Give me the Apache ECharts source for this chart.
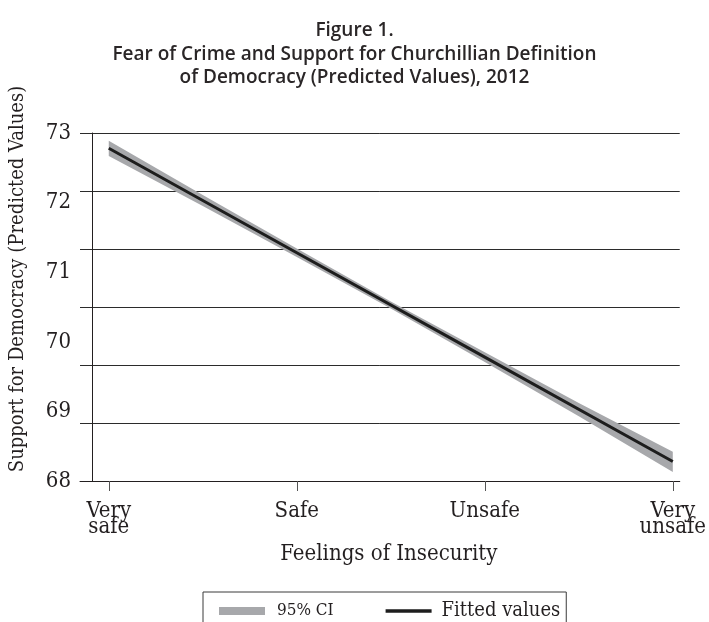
<!DOCTYPE html>
<html>
<head>
<meta charset="utf-8">
<title>Fear of Crime and Support for Churchillian Definition of Democracy</title>
<script src="https://cdn.jsdelivr.net/npm/echarts@6/dist/echarts.min.js"></script>
<style>
  html, body { margin: 0; padding: 0; background: #fff; }
  #chart { width: 709px; height: 622px; }
</style>
</head>
<body>
<div id="chart"></div>
<script>
// Feelings of insecurity, coded 1 (very safe) .. 4 (very unsafe)
const categoryPos = [1, 2, 3, 4];
const categoryLabels = ['Very\nsafe', 'Safe', 'Unsafe', 'Very\nunsafe'];

// Predicted support for democracy at each level
const fittedValues = [72.78, 71.28, 69.78, 68.28];

// 95% confidence band, sampled along the insecurity scale
const ciX = [1, 1.5, 2, 2.5, 3, 3.5, 4];
const ciLower = [72.67, 71.95, 71.22, 70.48, 69.71, 68.93, 68.13];
const ciUpper = [72.89, 72.11, 71.34, 70.58, 69.85, 69.12, 68.42];

// Y tick labels
const yTicks = [68, 69, 70, 71, 72, 73];

const SERIF = "'DejaVu Serif Condensed', 'DejaVu Serif', serif";
const TEXT = '#231f20';
const BAND = '#a7a8ab';

const chart = echarts.init(document.getElementById('chart'), null, { renderer: 'canvas' });

// Shaded confidence band: one polygon, upper edge forward then lower edge back
function renderBand(params, api) {
  if (params.dataIndex !== 0) return null;
  const pts = [];
  for (let i = 0; i < ciX.length; i++) pts.push(api.coord([ciX[i], ciUpper[i]]));
  for (let i = ciX.length - 1; i >= 0; i--) pts.push(api.coord([ciX[i], ciLower[i]]));
  return {
    type: 'polygon',
    shape: { points: pts },
    style: { fill: BAND, stroke: null }
  };
}

chart.setOption({
  animation: false,
  backgroundColor: '#ffffff',
  title: {
    text: 'Figure 1.\nFear of Crime and Support for Churchillian Definition\nof Democracy (Predicted Values), 2012',
    left: 'center',
    top: 14,
    textStyle: {
      fontFamily: "'Open Sans', sans-serif",
      fontWeight: 600,
      fontSize: 19,
      lineHeight: 23.5,
      color: '#2a2627'
    }
  },
  grid: { left: 77, right: 27, top: 133, bottom: 141, containLabel: false },
  xAxis: {
    type: 'value',
    min: 0.847,
    max: 4.037,
    name: 'Feelings of Insecurity',
    nameLocation: 'middle',
    nameGap: 58,
    nameTextStyle: { fontFamily: SERIF, fontSize: 22, color: TEXT, padding: [0, 0, 0, 18] },
    axisLine: { show: true, lineStyle: { color: '#231f20', width: 1 } },
    axisTick: {
      show: true, customValues: categoryPos, length: 10, inside: false,
      lineStyle: { color: '#555', width: 1 }
    },
    axisLabel: {
      show: true,
      customValues: categoryPos,
      margin: 22,
      fontFamily: SERIF,
      fontSize: 22,
      lineHeight: 16,
      color: TEXT,
      formatter: (v) => categoryLabels[categoryPos.indexOf(Math.round(v))] || ''
    },
    splitLine: { show: false }
  },
  yAxis: [
    {
      type: 'value',
      min: 68,
      max: 73,
      interval: 1,
      position: 'left',
      name: 'Support for Democracy (Predicted Values)',
      nameLocation: 'middle',
      nameGap: 52,
      nameRotate: 90,
      nameTextStyle: { fontFamily: SERIF, fontSize: 20, color: TEXT, padding: [0, 0, 0, 56] },
      axisLine: { show: false },
      axisTick: { show: false },
      axisLabel: {
        margin: 9,
        fontFamily: SERIF,
        fontSize: 22,
        color: TEXT,
        customValues: yTicks
      },
      splitLine: { show: false }
    },
    {
      // horizontal rules and the vertical axis line
      type: 'value',
      min: 0,
      max: 6,
      interval: 1,
      position: 'left',
      offset: -12,
      axisLine: { show: true, lineStyle: { color: '#231f20', width: 1 } },
      axisTick: { show: false },
      axisLabel: { show: false },
      splitLine: { show: true, lineStyle: { color: '#2b2b2b', width: 1 } }
    }
  ],
  legend: {
    left: 203,
    top: 592,
    orient: 'horizontal',
    borderColor: '#3a3a3a',
    borderWidth: 1,
    padding: [9, 6, 12, 16],
    itemWidth: 46,
    itemHeight: 8,
    itemGap: 52,
    symbolKeepAspect: true,
    data: [
      { name: '95% CI', icon: 'rect', itemStyle: { color: BAND },
        textStyle: { fontFamily: SERIF, fontSize: 17, color: TEXT, padding: [0, 0, 0, 7] } },
      { name: 'Fitted values', icon: 'path://M0,0L42,0L42,3L0,3Z', itemStyle: { color: '#1d1d1d' },
        textStyle: { fontFamily: SERIF, fontSize: 20, color: TEXT, padding: [0, 0, 0, 5] } }
    ]
  },
  series: [
    {
      name: '95% CI',
      type: 'custom',
      coordinateSystem: 'cartesian2d',
      yAxisIndex: 0,
      silent: true,
      itemStyle: { color: BAND },
      renderItem: renderBand,
      encode: { x: 0, y: [1, 2] },
      data: ciX.map((x, i) => [x, ciLower[i], ciUpper[i]]),
      z: 3
    },
    {
      name: 'Fitted values',
      type: 'line',
      yAxisIndex: 0,
      symbol: 'none',
      showSymbol: false,
      color: '#1d1d1d',
      lineStyle: { color: '#1d1d1d', width: 3 },
      data: categoryPos.map((x, i) => [x, fittedValues[i]]),
      z: 5
    }
  ]
});
</script>
</body>
</html>
